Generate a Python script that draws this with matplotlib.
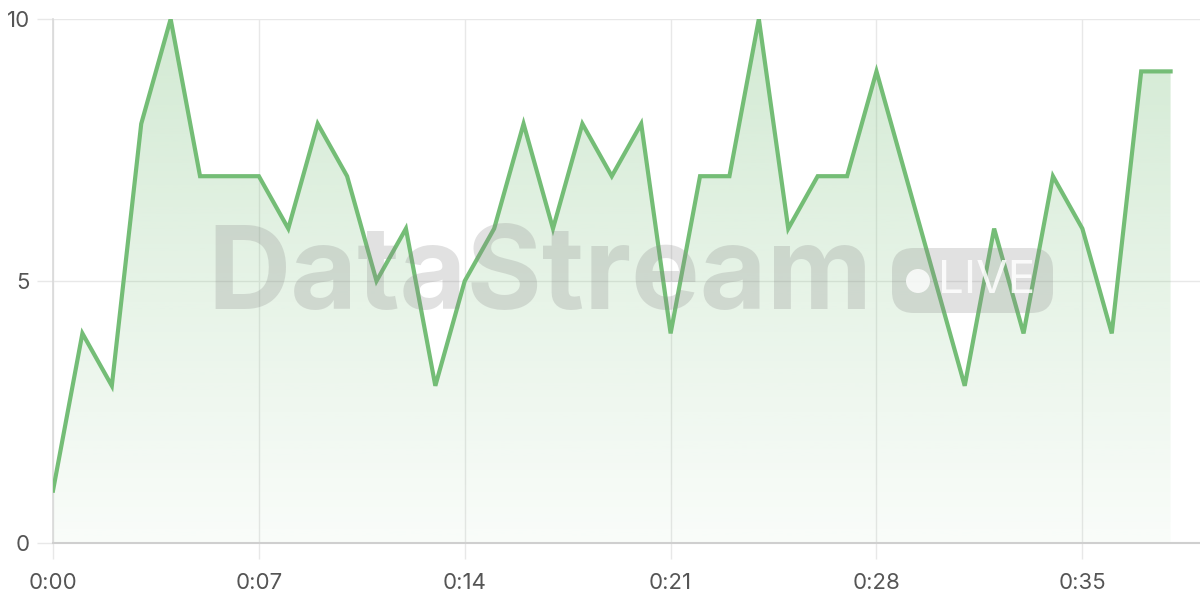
import numpy as np
import matplotlib
matplotlib.use("Agg")
import matplotlib.pyplot as plt
from matplotlib.patches import FancyBboxPatch, Ellipse
from matplotlib.path import Path
from matplotlib.patches import PathPatch

plt.rcParams['font.family'] = ['Inter', 'DejaVu Sans']

seconds = list(range(39))
values = [1, 4, 3, 8, 10, 7, 7, 7, 6, 8, 7, 5, 6, 3, 5, 6, 8, 6, 8, 7, 8, 4, 7, 7, 10,
          6, 7, 7, 9, 7, 5, 3, 6, 4, 7, 6, 4, 9, 9]
xticks = [0, 7, 14, 21, 28, 35]
xticklabels = ["0:00", "0:07", "0:14", "0:21", "0:28", "0:35"]
yticks = [0, 5, 10]

line_color = "#74bd76"

fig = plt.figure(figsize=(12, 6), dpi=100)
ax = fig.add_axes([53/1200, 1 - 543/600, 1 - 53/1200, (543 - 19)/600])
ax.set_xlim(0, 39)
ax.set_ylim(0, 10)

x = np.array(seconds, dtype=float)
y = np.array(values, dtype=float)

# gradient fill
verts = [(x[0], 0)] + list(zip(x, y)) + [(x[-1], 0), (x[0], 0)]
codes = [Path.MOVETO] + [Path.LINETO] * (len(verts) - 2) + [Path.CLOSEPOLY]
poly = PathPatch(Path(verts, codes), facecolor='none', edgecolor='none')
ax.add_patch(poly)
grad = np.linspace(0.04, 0.32, 256).reshape(-1, 1)
rgba = np.zeros((256, 1, 4))
rgba[..., 0] = 0x74 / 255
rgba[..., 1] = 0xbd / 255
rgba[..., 2] = 0x76 / 255
rgba[..., 3] = grad
im = ax.imshow(rgba, extent=[0, 39, 0, 10], origin='lower', aspect='auto', zorder=1)
im.set_clip_path(poly)

ax.plot(x, y, color=line_color, lw=3, zorder=4, solid_joinstyle='miter')

# grid
for t in xticks:
    ax.axvline(t, color="#e8e8e8", lw=1, zorder=0)
for t in yticks:
    ax.axhline(t, color="#e8e8e8", lw=1, zorder=0)

for s in ['top', 'right']:
    ax.spines[s].set_visible(False)
ax.spines['left'].set_color("#d9d9d9")
ax.spines['bottom'].set_color("#cfcfcf")
ax.spines['bottom'].set_linewidth(1.5)
ax.spines['left'].set_linewidth(1.2)

ax.set_xticks(xticks)
ax.set_xticklabels(xticklabels)
ax.set_yticks(yticks)
ax.tick_params(axis='x', length=11.5, width=1, color="#e8e8e8", labelsize=16,
               labelcolor="#555555", pad=10)
ax.tick_params(axis='y', length=11.5, width=1, color="#e8e8e8", labelsize=16,
               labelcolor="#555555", pad=5)
ax.set_facecolor('none')

# watermark
fig.text(207/1200, 1 - 279/600, "DataStream", fontsize=83, fontweight='bold',
         color="#888888", alpha=0.25, ha='left', va='center', zorder=3)
badge = FancyBboxPatch((892/1200, 1 - 313/600), 161/1200, 65/600,
                       boxstyle="round,pad=0,rounding_size=0.018",
                       transform=fig.transFigure, facecolor="#888888", alpha=0.25,
                       edgecolor='none', zorder=3, mutation_aspect=2)
fig.add_artist(badge)
fig.add_artist(Ellipse((918/1200, 1 - 281/600), 24/1200, 24/600, transform=fig.transFigure,
                       facecolor='white', alpha=0.8, edgecolor='none', zorder=3))
fig.text(938/1200, 1 - 281/600, "LIVE", fontsize=33, color='white', alpha=0.85,
         ha='left', va='center', zorder=3)

fig.savefig("out.png", dpi=100)
